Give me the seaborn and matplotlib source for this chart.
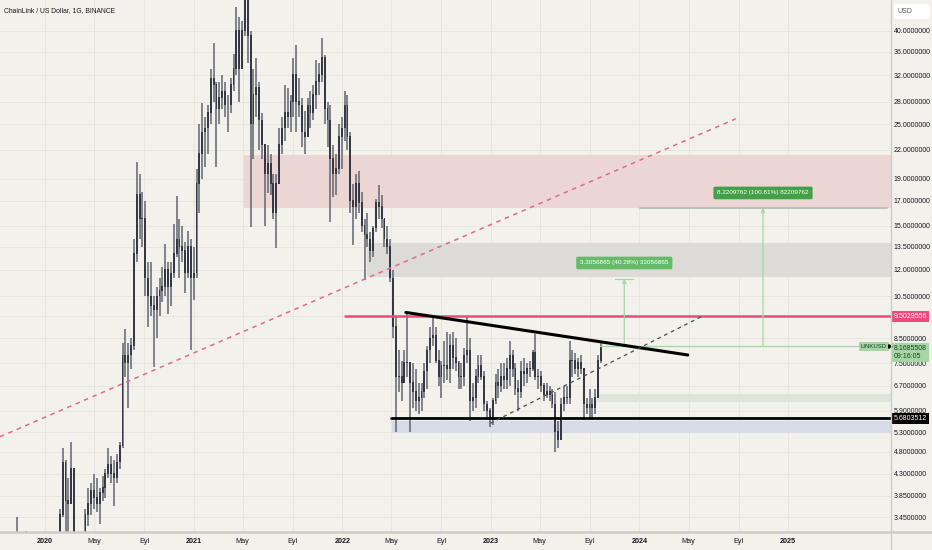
import numpy as np
import pandas as pd
import matplotlib
matplotlib.use("Agg")
import matplotlib.pyplot as plt
import matplotlib.dates as mdates
import matplotlib.ticker as mticker
import matplotlib.transforms as mtrans
from matplotlib.lines import Line2D
from matplotlib.patches import FancyBboxPatch
import seaborn as sns

# weekly candles (weeks start on monday)
first_week = "2019-09-16"
first_open = 1.80

high_2019 = [1.95, 1.80, 2.60, 3.00, 2.95, 3.46, 3.10, 3.00, 3.22, 2.70, 2.40, 2.30, 2.10, 2.00, 2.00, 2.00]
low_2019 = [1.55, 1.55, 1.70, 2.40, 2.50, 2.50, 2.70, 2.60, 2.50, 2.20, 2.00, 2.00, 1.90, 1.75, 1.80, 1.70]
close_2019 = [1.65, 1.75, 2.55, 2.75, 2.60, 2.95, 2.85, 2.70, 2.60, 2.30, 2.20, 2.10, 1.95, 1.90, 1.85, 1.90]

high_2020 = [2.30, 2.50, 2.60, 2.80, 3.60, 4.90, 4.60, 4.20, 5.05, 4.40, 2.30, 2.50, 3.00,
             3.60, 4.00, 4.10, 4.30, 4.20, 4.00, 4.25, 4.40, 4.90, 4.70, 4.60, 4.75, 5.05,
             8.30, 8.90, 8.30, 8.50, 14.00, 20.70, 19.50, 17.80, 17.00, 12.50, 12.50, 10.50, 11.00,
             11.50, 12.20, 13.70, 12.50, 12.50, 15.10, 17.40, 15.50, 15.00, 13.80, 14.60, 14.00, 13.50]
low_2020 = [1.85, 2.10, 2.20, 2.30, 2.70, 3.45, 3.10, 3.10, 3.70, 1.50, 1.60, 1.90, 2.20,
            2.80, 3.30, 3.50, 3.60, 3.55, 3.33, 3.75, 3.80, 4.20, 4.10, 3.65, 4.10, 4.40,
            4.90, 7.00, 6.00, 7.30, 8.00, 12.50, 14.00, 13.50, 10.50, 9.00, 9.50, 7.35, 8.50,
            9.50, 10.20, 10.50, 9.60, 10.00, 11.50, 12.80, 11.50, 12.50, 10.70, 11.50, 8.00, 10.30]
close_2020 = [2.20, 2.40, 2.40, 2.75, 3.50, 4.55, 3.75, 3.70, 4.40, 2.00, 2.00, 2.30, 2.90,
              3.50, 3.70, 3.95, 3.80, 3.70, 3.90, 4.00, 4.30, 4.50, 4.30, 4.20, 4.55, 4.95,
              7.80, 7.50, 7.80, 8.20, 13.00, 17.50, 15.50, 15.50, 11.50, 10.50, 10.00, 9.80, 10.50,
              10.80, 11.00, 12.00, 11.00, 11.80, 13.00, 14.00, 13.50, 13.20, 11.80, 13.50, 11.50, 11.80]

high_2021 = [20.00, 25.00, 27.80, 26.00, 27.50, 33.00, 37.60, 31.00, 31.00, 32.00, 31.00, 29.00, 31.50,
             35.60, 45.20, 43.00, 42.00, 52.70, 52.70, 40.00, 33.00, 35.00, 31.00, 26.50, 22.00, 22.50,
             21.50, 19.50, 19.50, 24.50, 26.00, 30.50, 30.00, 29.00, 35.00, 37.20, 31.50, 28.50, 26.70,
             28.50, 29.50, 30.50, 34.60, 34.00, 38.60, 35.50, 28.00, 27.50, 22.50, 21.50, 25.00, 26.00]
low_2021 = [11.50, 16.00, 19.00, 20.20, 21.50, 25.00, 28.00, 20.20, 25.00, 27.00, 26.00, 24.00, 26.50,
            29.50, 32.00, 28.00, 33.00, 39.00, 34.00, 14.90, 21.00, 26.00, 22.00, 21.00, 15.00, 17.70,
            17.50, 15.50, 13.40, 18.50, 21.50, 23.00, 24.50, 24.00, 26.00, 24.00, 26.00, 22.30, 21.50,
            23.50, 24.50, 25.50, 27.00, 29.00, 31.00, 25.00, 22.30, 15.30, 17.30, 17.50, 19.50, 20.00]
close_2021 = [18.50, 21.50, 24.00, 24.50, 26.50, 31.50, 30.50, 27.00, 28.50, 29.50, 27.50, 27.50, 30.50,
              33.00, 40.00, 33.00, 40.00, 48.00, 39.00, 25.00, 29.00, 30.00, 25.50, 22.50, 19.50, 20.50,
              18.50, 16.00, 18.50, 22.50, 24.50, 26.50, 26.00, 28.00, 32.00, 28.00, 27.50, 24.00, 23.50,
              27.50, 26.50, 29.00, 31.00, 32.00, 35.00, 27.00, 25.50, 21.00, 19.50, 20.00, 23.50, 24.50]

high_2022 = [29.50, 29.00, 24.00, 18.50, 19.50, 19.80, 17.80, 15.50, 16.00, 14.50, 15.00, 17.20, 18.40,
             17.50, 15.50, 15.00, 14.00, 12.00, 9.50, 8.00, 7.60, 8.00, 9.65, 7.50, 7.50, 7.30,
             6.80, 6.80, 7.50, 8.20, 9.00, 9.45, 9.00, 8.00, 7.60, 8.40, 8.80, 8.70, 8.80,
             8.50, 7.60, 7.50, 8.10, 9.45, 8.50, 6.80, 7.30, 7.80, 7.80, 7.20, 6.20, 6.00]
low_2022 = [23.00, 22.00, 16.00, 13.60, 15.50, 16.00, 14.50, 11.40, 13.50, 12.50, 12.80, 14.50, 15.50,
            14.80, 13.50, 13.00, 11.30, 8.50, 5.30, 6.50, 6.20, 6.80, 7.00, 5.30, 6.00, 5.90,
            5.80, 5.90, 6.30, 6.60, 7.50, 8.20, 7.50, 6.70, 6.30, 6.80, 6.90, 6.80, 7.30,
            7.20, 6.60, 6.60, 6.70, 7.50, 5.60, 5.90, 6.00, 6.80, 6.90, 5.90, 5.70, 5.45]
close_2022 = [27.50, 23.50, 17.00, 16.50, 18.50, 16.80, 15.00, 14.30, 14.00, 13.20, 14.80, 16.80, 16.50,
              15.50, 14.00, 13.50, 11.50, 9.00, 7.00, 7.00, 6.80, 7.50, 7.50, 6.80, 6.50, 6.20,
              6.30, 6.50, 7.20, 8.00, 8.50, 8.60, 7.60, 7.00, 7.40, 7.40, 7.30, 8.20, 7.70,
              7.50, 7.00, 7.00, 7.80, 8.00, 6.20, 6.30, 7.00, 7.40, 7.00, 6.10, 5.90, 5.70]

high_2023 = [6.30, 7.10, 7.30, 7.50, 7.50, 7.70, 8.40, 8.00, 7.50, 6.90, 7.60, 7.70, 7.50,
             7.60, 8.00, 8.70, 7.30, 7.20, 6.80, 6.80, 6.70, 6.60, 6.50, 5.60, 6.30, 6.70,
             6.70, 8.40, 8.00, 7.90, 7.70, 7.80, 7.30, 6.30, 6.60, 6.30, 6.60, 7.80, 8.30]
low_2023 = [5.50, 6.10, 6.30, 6.50, 6.60, 6.60, 6.70, 7.00, 6.40, 5.90, 6.30, 6.70, 6.80,
            7.00, 7.20, 6.90, 6.60, 6.50, 6.20, 6.30, 6.20, 6.00, 4.80, 4.90, 5.10, 5.90,
            6.10, 6.10, 7.00, 7.10, 7.00, 7.10, 5.70, 5.80, 5.70, 5.70, 5.80, 6.30, 7.50]
close_2023 = [6.20, 6.80, 6.70, 7.00, 6.90, 7.30, 7.80, 7.30, 6.60, 6.50, 7.20, 7.10, 7.30,
              7.30, 7.90, 7.00, 7.00, 6.70, 6.40, 6.50, 6.40, 6.10, 5.30, 5.10, 6.10, 6.30,
              6.30, 7.60, 7.60, 7.30, 7.50, 7.30, 6.10, 6.00, 6.10, 6.00, 6.30, 7.60, 8.1685508]

# price levels / drawings
price_ticks = [40, 36, 32, 28, 25, 22, 19, 17, 15, 13.5, 12, 10.5, 9.5, 8.5, 7.5, 6.7, 5.9, 5.3, 4.8, 4.3, 3.85, 3.45]
tick_dates = ["2020-01-01", "2020-05-01", "2020-09-01", "2021-01-01", "2021-05-01", "2021-09-01",
              "2022-01-01", "2022-05-01", "2022-09-01", "2023-01-01", "2023-05-01", "2023-09-01",
              "2024-01-01", "2024-05-01", "2024-09-01", "2025-01-01"]
tick_labels = ["2020", "May", "Eyl", "2021", "May", "Eyl", "2022", "May", "Eyl",
               "2023", "May", "Eyl", "2024", "May", "Eyl", "2025"]

last_price = 8.1685508
resistance_line = 9.5029556
support_line = 5.6803512
zones = [  # start, low, high, colour
    ("2021-05-04", 16.4, 21.4, "#ecd6d4"),
    ("2022-03-02", 11.58, 13.75, "#dcdbd8"),
    ("2022-05-02", 5.27, 5.62, "#d7dae7"),
    ("2023-09-20", 6.16, 6.41, "#dfe5d8"),
]
falling_line = (["2022-06-06", "2024-04-29"], [9.69, 7.82])
rising_dashed = (["2022-12-30", "2024-06-05"], [5.54, 9.52])
long_trend = (["2019-09-12", "2024-08-25"], [5.18, 25.7])
gain_small = 3.3056865
gain_big = 8.2209762


def d(s):
    return mdates.date2num(pd.Timestamp(s))


highs = np.array(high_2019 + high_2020 + high_2021 + high_2022 + high_2023)
lows = np.array(low_2019 + low_2020 + low_2021 + low_2022 + low_2023)
closes = np.array(close_2019 + close_2020 + close_2021 + close_2022 + close_2023)
opens = np.r_[first_open, closes[:-1]]
weeks = pd.date_range(first_week, periods=len(closes), freq="7D") + pd.Timedelta(hours=84)
xs = mdates.date2num(weeks.to_pydatetime())

sns.set_theme(style="white")
plt.rcParams["font.family"] = ["Liberation Sans", "DejaVu Sans"]

bg = "#f3f1ec"
txt = "#131722"
fs = 5.0
fig = plt.figure(figsize=(9.32, 5.5), dpi=100, facecolor=bg)
ax = fig.add_axes([0, 18 / 550, 891 / 932, 532 / 550])
ax.set_facecolor(bg)
ax.set_yscale("log")
x_left, x_right = d("2019-09-12 09:00"), d("2025-09-10 14:00")
ax.set_xlim(x_left, x_right)
ax.set_ylim(3.2057, 46.76)

ax.set_yticks(price_ticks)
ax.yaxis.set_minor_locator(mticker.NullLocator())
# the 9.5 tick label sits under the pink level label
ax.set_yticklabels(["" if v == 9.5 else f"{v:.7f}" for v in price_ticks])
ax.yaxis.tick_right()
ax.tick_params(axis="y", length=0, pad=2, labelsize=fs, colors=txt)
ax.set_xticks([d(s) for s in tick_dates])
ax.set_xticklabels(tick_labels)
ax.tick_params(axis="x", length=0, pad=4, labelsize=5.2, colors=txt)
for lab in ax.get_xticklabels():
    if lab.get_text().isdigit():
        lab.set_fontweight("bold")
ax.grid(True, color="#e8e5df", lw=0.7)
ax.set_axisbelow(True)
for sp in ax.spines.values():
    sp.set_visible(False)

for start, lo, hi, col in zones:
    ax.fill_between([d(start), x_right], lo, hi, color=col, lw=0, zorder=1)

# candles
ax.vlines(xs, lows, highs, color="#62656f", lw=1.1, zorder=3)
body_lo = np.minimum(opens, closes)
body_hi = np.maximum(opens, closes) * 1.004
ax.bar(xs, body_hi - body_lo, bottom=body_lo, width=4.6, color="#363945", lw=0, zorder=4)

# horizontal levels
ax.plot([d("2022-01-07"), x_right], [resistance_line] * 2, color="#ec4a7c", lw=1.8, zorder=5)
ax.plot([d("2022-04-30"), x_right], [support_line] * 2, color="black", lw=2.0, zorder=5)

# trend lines
sns.lineplot(x=[d(s) for s in long_trend[0]], y=long_trend[1], ax=ax, color="#e2698c",
             lw=1.1, linestyle=(0, (3, 3)), zorder=5)
sns.lineplot(x=[d(s) for s in falling_line[0]], y=falling_line[1], ax=ax, color="black",
             lw=2.2, zorder=6)
sns.lineplot(x=[d(s) for s in rising_dashed[0]], y=rising_dashed[1], ax=ax, color="#4a4a4a",
             lw=0.9, linestyle=(0, (3, 3)), zorder=6)

# price-range measurements
green_line = "#a6d5a6"
ax.plot([d("2023-09-26"), d("2025-07-04")], [last_price] * 2, color=green_line, lw=0.9, zorder=5)
top_small = last_price + gain_small
top_big = last_price + gain_big
ax.plot([d("2023-11-02"), d("2023-12-16")], [top_small] * 2, color=green_line, lw=0.9, zorder=5)
ax.plot([d("2024-01-02"), d("2025-08-31")], [top_big] * 2, color="#b8c2b4", lw=1.4, zorder=5)
for xd, top in [("2023-11-25", top_small), ("2024-10-31", top_big)]:
    ax.annotate("", xy=(d(xd), top), xytext=(d(xd), last_price),
                arrowprops=dict(arrowstyle="->", color=green_line, lw=0.9,
                                shrinkA=0, shrinkB=0, mutation_scale=6), zorder=5)
ax.text(d("2023-11-25"), 12.43, f"{gain_small:.7f} (40.28%) 33056865", ha="center", va="center",
        color="white", fontsize=4.6, zorder=7,
        bbox=dict(boxstyle="round,pad=0.6,rounding_size=0.25", fc="#66bb6a", ec="none"))
ax.text(d("2024-10-31"), 17.69, f"{gain_big:.7f} (100.81%) 82209762", ha="center", va="center",
        color="white", fontsize=4.6, zorder=7,
        bbox=dict(boxstyle="round,pad=0.6,rounding_size=0.25", fc="#43a047", ec="none"))

# price-axis labels
right = mtrans.blended_transform_factory(fig.transFigure, ax.transData)
ax.text(893.5 / 932, resistance_line, f"{resistance_line:.7f}", transform=right, va="center",
        ha="left", color="white", fontsize=fs, zorder=8, clip_on=False,
        bbox=dict(boxstyle="square,pad=0.3", fc="#ec4a7c", ec="none"))
ax.text(893.5 / 932, support_line, f"{support_line:.7f}", transform=right, va="center",
        ha="left", color="white", fontsize=fs, zorder=8, clip_on=False,
        bbox=dict(boxstyle="square,pad=0.3", fc="black", ec="none"))
ax.text(893.5 / 932, 7.93, f"{last_price:.7f}\n09:16:05", transform=right, va="center",
        ha="left", color="#1e3b22", fontsize=fs, linespacing=1.15, zorder=8, clip_on=False,
        bbox=dict(boxstyle="square,pad=0.3", fc="#a6d5a6", ec="none"))
ax.text(887 / 932, last_price, "LINKUSD", transform=right, va="center", ha="right",
        color="#1e3b22", fontsize=4.3, zorder=8, clip_on=False,
        bbox=dict(boxstyle="square,pad=0.35", fc="#a6d5a6", ec="none"))
ax.plot([890 / 932], [last_price], marker=">", ms=2.5, color="black", transform=right,
        clip_on=False, zorder=9)

fig.add_artist(FancyBboxPatch((894 / 932, 1 - 19 / 550), 36 / 932, 15 / 550,
                              boxstyle="round,pad=0,rounding_size=0.004",
                              fc="white", ec="none", transform=fig.transFigure))
fig.text(898 / 932, 1 - 11.5 / 550, "USD", ha="left", va="center", color="#555", fontsize=fs)
fig.text(4 / 932, 1 - 10.5 / 550, "ChainLink / US Dollar, 1G, BINANCE", ha="left", va="center",
         color=txt, fontsize=4.9)

fig.add_artist(Line2D([0, 1], [18 / 550, 18 / 550], color="#cfccc6", lw=1.8))
fig.add_artist(Line2D([891 / 932, 891 / 932], [0, 1], color="#cfccc6", lw=1.0))

fig.savefig("out.png", dpi=100, facecolor=bg)
